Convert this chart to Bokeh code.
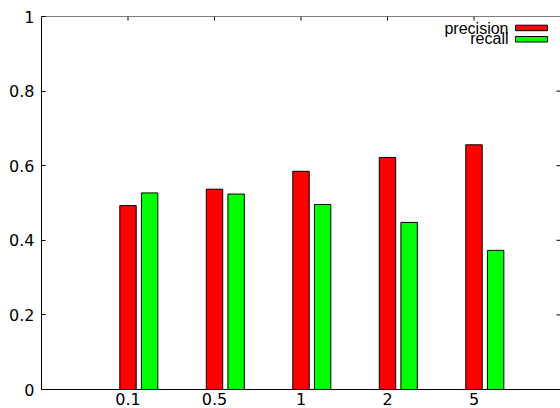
from bokeh.plotting import figure
from bokeh.models import (ColumnDataSource, Range1d, FixedTicker, LinearAxis,
                          Label, BoxAnnotation, Span)
from bokeh.transform import dodge
from bokeh.embed import file_html
from bokeh.resources import INLINE

categories = ["0.1", "0.5", "1", "2", "5"]
precision = [0.493, 0.537, 0.585, 0.622, 0.656]
recall = [0.527, 0.524, 0.496, 0.448, 0.373]
ytick_values = [0, 0.2, 0.4, 0.6, 0.8, 1]
ytick_labels = ["0", "0.2", "0.4", "0.6", "0.8", "1"]
series_names = ["precision", "recall"]
series_colors = ["#ff0000", "#00ff00"]

positions = list(range(1, len(categories) + 1))
source = ColumnDataSource(dict(x=positions, precision=precision, recall=recall))

X_END = len(categories) + 1
p = figure(width=560, height=408, output_backend="svg", toolbar_location=None,
           x_range=Range1d(0, X_END), y_range=Range1d(0, 1),
           x_axis_type=None, y_axis_type=None,
           min_border_left=41, min_border_top=16, min_border_right=0, min_border_bottom=19)
p.outline_line_color = None
p.xgrid.visible = False
p.ygrid.visible = False
p.background_fill_color = "white"
p.border_fill_color = "white"

TICK_FONT = "DejaVu Sans"

def style_axis(ax):
    ax.axis_line_color = "black"
    ax.axis_line_width = 1
    ax.major_tick_line_color = "black"
    ax.major_tick_in = 4
    ax.major_tick_out = 0
    ax.minor_tick_line_color = None
    ax.major_label_text_font = TICK_FONT
    ax.major_label_text_color = "black"
    ax.major_label_text_font_size = "16px"

xticker = FixedTicker(ticks=positions)
yticker = FixedTicker(ticks=ytick_values)

xaxis = LinearAxis(ticker=xticker,
                   major_label_overrides={pp: c for pp, c in zip(positions, categories)})
style_axis(xaxis)
xaxis.major_tick_line_color = None
xaxis.major_label_standoff = 3
p.add_layout(xaxis, "below")

yaxis = LinearAxis(ticker=yticker,
                   major_label_overrides={v: l for v, l in zip(ytick_values, ytick_labels)})
style_axis(yaxis)
yaxis.major_label_standoff = 7
p.add_layout(yaxis, "left")

# top border of the frame
p.add_layout(Span(location=1, dimension="width", line_color="black", line_width=1))

bar_w = 0.19
p.vbar(x="x", top="precision", width=bar_w, source=source,
       fill_color=series_colors[0], line_color="black", line_width=1)
p.vbar(x=dodge("x", 0.25, range=p.x_range), top="recall", width=bar_w, source=source,
       fill_color=series_colors[1], line_color="black", line_width=1)

# mirrored inward ticks on the top and right borders (gnuplot style)
frame_h = 373.0
frame_w = 519.0
tick_len_y = 4.0 / frame_h
tick_len_x = 4.0 * X_END / frame_w
p.segment(x0=positions, x1=positions, y0=[1] * len(positions),
          y1=[1 - tick_len_y] * len(positions), line_color="black", line_width=1)
inner_y = ytick_values[1:-1]
p.segment(x0=[X_END - tick_len_x] * len(inner_y), x1=[X_END] * len(inner_y),
          y0=inner_y, y1=inner_y, line_color="black", line_width=1)

# gnuplot-style key: text right-aligned, swatch to its right
LEG_FONT = "Liberation Sans"
def below_top(px):
    return 1 - px / frame_h

for i, (name, col) in enumerate(zip(series_names, series_colors)):
    base = 12 + 10 * i          # baseline below frame top (px)
    sw_top = 8.7 + 11.3 * i     # swatch top below frame top (px)
    p.add_layout(Label(x=467, y=below_top(base), x_units="screen", y_units="data",
                       text=name, text_align="right", text_baseline="alphabetic",
                       text_font=LEG_FONT, text_font_size="16px", text_color="black"))
    p.add_layout(BoxAnnotation(left=474, right=506,
                               top=below_top(sw_top), bottom=below_top(sw_top + 5.5),
                               left_units="screen", right_units="screen",
                               top_units="data", bottom_units="data",
                               fill_color=col, fill_alpha=1.0,
                               line_color="black", line_width=1, line_alpha=1.0))

open("out.html", "w").write(file_html(p, INLINE))
